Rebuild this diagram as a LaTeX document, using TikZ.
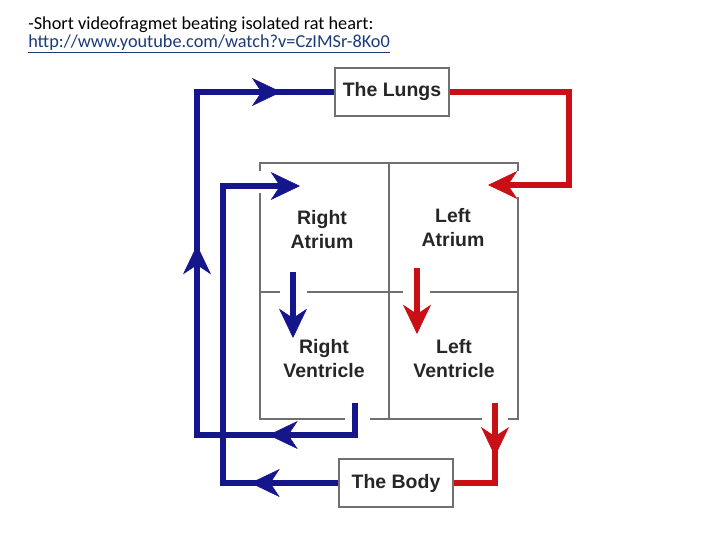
\documentclass[tikz,border=0pt]{standalone}
\usepackage{fontspec}
\setmainfont{Liberation Sans}
\newfontfamily\notefont{Carlito}
\usepackage{tikz}
\usetikzlibrary{arrows.meta, positioning, calc, decorations.markings}
\definecolor{flowBlue}{RGB}{22, 22, 140}
\definecolor{flowRed}{RGB}{200, 16, 22}
\definecolor{wallGray}{RGB}{112, 112, 112}
\definecolor{linkBlue}{RGB}{28, 58, 120}
\tikzset{flowtip/.tip={Stealth[length=22pt, width=21pt, inset=7pt, line width=0.4pt]}}
\tikzstyle{organ} = [rectangle, draw=wallGray, line width=1.5pt, fill=white, minimum width=85pt, minimum height=36pt, font=\fontsize{14.6}{18}\selectfont\bfseries, text=black!85]
\tikzstyle{chamber} = [align=center, font=\fontsize{14.6}{18}\selectfont\bfseries, text=black!85]
\tikzstyle{wall} = [draw=wallGray, line width=1.5pt]
\tikzstyle{blueflow} = [draw=flowBlue, line width=3.8pt, flowBlue]
\tikzstyle{redflow} = [draw=flowRed, line width=3.8pt, flowRed]
\tikzstyle{tipat} = [postaction={decorate, decoration={markings, mark=at position #1 with {\arrow{flowtip}}}}]

\begin{document}
\begin{tikzpicture}[x=0.75pt, y=-0.75pt]
\useasboundingbox (0,0) rectangle (720,540);

\node (note) [anchor=base west, inner sep=0pt, font=\notefont\fontsize{13.7}{14}\selectfont] at (28,29) {-Short videofragmet beating isolated rat heart:};
\node (link) [anchor=base west, inner sep=0pt, font=\notefont\fontsize{13.7}{14}\selectfont, text=linkBlue] at (28,47) {\underline{http://www.youtube.com/watch?v=CzIMSr-8Ko0}};

\node (lungs) [organ] at (392,92) {The Lungs};
\node (body) [organ] at (396,483) {The Body};

% heart walls, left open where the flow goes through
\draw [wall] (260,171) -- (260,163) -- (518,163) -- (518,171);
\draw [wall] (260,193) -- (260,419) -- (345,419);
\draw [wall] (370,419) -- (482,419);
\draw [wall] (508,419) -- (518,419) -- (518,197);
\draw [wall] (389,163) -- (389,419);
\draw [wall] (260,292) -- (280,292);
\draw [wall] (307,292) -- (403,292);
\draw [wall] (430,292) -- (518,292);

\node (ra) [chamber] at (322,230) {Right\\Atrium};
\node (la) [chamber] at (453,228) {Left\\Atrium};
\node (rv) [chamber] at (324,359) {Right\\Ventricle};
\node (lv) [chamber] at (454,359) {Left\\Ventricle};

\coordinate (raIn) at (300,186);
\coordinate (laIn) at (488,185);
\coordinate (raTop) at (293,272);
\coordinate (raValve) at (293,338);
\coordinate (laTop) at (417,268);
\coordinate (laValve) at (417,334);
\coordinate (rvOut) at (355,403);
\coordinate (lvOut) at (495,403);

% blood back from the body and to the lungs
\draw [blueflow, -flowtip, tipat=66pt] (body.west) -| (223,186) -- (raIn);
\draw [blueflow, -flowtip] (raTop) -- (raValve);
\draw [blueflow, tipat=89pt, tipat=285pt, tipat=463pt] (rvOut) -- (355,435) -- (197,435) |- (lungs.west);

% blood from the lungs and to the body
\draw [redflow, -flowtip] (lungs.east) -| (569,185) -- (laIn);
\draw [redflow, -flowtip] (laTop) -- (laValve);
\draw [redflow, tipat=40pt] (lvOut) |- (body.east);

\end{tikzpicture}
\end{document}
